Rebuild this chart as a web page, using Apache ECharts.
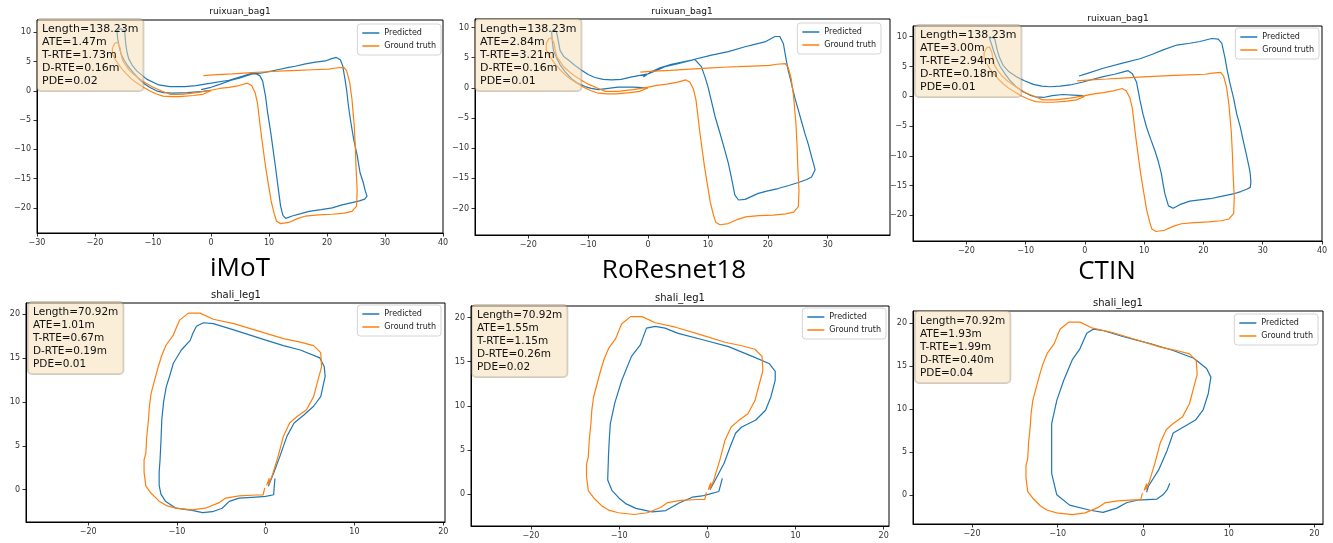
<!DOCTYPE html>
<html>
<head>
<meta charset="utf-8">
<title>trajectory compare</title>
<script src="https://cdn.jsdelivr.net/npm/echarts@6/dist/echarts.min.js"></script>
<style>
  html, body { margin: 0; padding: 0; background: #fff; }
  #main { width: 1333px; height: 543px; }
</style>
</head>
<body>
<div id="main"></div>
<script>
var methods = ['iMoT', 'RoResnet18', 'CTIN'];
var topTitle = 'ruixuan_bag1';
var bottomTitle = 'shali_leg1';

// metrics shown in the boxes
var topLength = '138.23';
var topATE = ['1.47', '2.84', '3.00'];
var topTRTE = ['1.73', '3.21', '2.94'];
var topDRTE = ['0.16', '0.16', '0.18'];
var topPDE = ['0.02', '0.01', '0.01'];
var bottomLength = '70.92';
var bottomATE = ['1.01', '1.55', '1.93'];
var bottomTRTE = ['0.67', '1.15', '1.99'];
var bottomDRTE = ['0.19', '0.26', '0.40'];
var bottomPDE = ['0.01', '0.02', '0.04'];

// tick labels
var topXTicks = [
    [-30, -20, -10, 0, 10, 20, 30, 40],
    [-20, -10, 0, 10, 20, 30],
    [-20, -10, 0, 10, 20, 30, 40]
];
var topYTicks = [-20, -15, -10, -5, 0, 5, 10];
var bottomXTicks = [-20, -10, 0, 10, 20];
var bottomYTicks = [0, 5, 10, 15, 20];

// ground truth, ruixuan_bag1
var gtRuixuan = [
    [0, 0], [-1.4, -0.6], [-3, -0.8], [-5.4, -1.0], [-6.8, -1.0], [-8.3, -0.9], [-9.5, -0.5], [-10.6, 0],
    [-11.8, 0.7], [-12.9, 1.4], [-13.8, 2.1], [-14.6, 2.9], [-15.4, 3.8], [-16, 4.6], [-16.6, 5.5], [-17, 6.3],
    [-17, 7.3], [-16.6, 8.1], [-16.1, 8.3], [-15.7, 7.4], [-15.5, 6.2], [-15.2, 5.1], [-14.6, 4.2], [-14, 3.4],
    [-13.2, 2.7], [-12.3, 2], [-11.2, 1.3], [-10, 0.6], [-8.6, 0], [-7.1, -0.6], [-5, -0.6], [-2.5, -0.3],
    [0, 0.1], [1.5, 0.4], [3.1, 0.6], [4.8, 0.9], [6.3, 1.3], [7, 0.9], [7.6, -0.3], [8, -2], [8.3, -4.5],
    [8.6, -7], [9, -10], [9.4, -12.9], [9.9, -16], [10.4, -19], [10.9, -21], [11.3, -22.3], [12, -22.7],
    [13.4, -22.5], [15, -21.8], [16.3, -21.4], [18.5, -21.2], [20.9, -21.1], [23, -20.9], [24.3, -20.6],
    [25.1, -19.7], [25.2, -17], [25, -13], [24.9, -10], [24.7, -6], [24.3, -1.4], [23.9, 1.5], [23.4, 3.4],
    [22.9, 4], [21.5, 3.9], [20.3, 3.7], [17.5, 3.6], [15.1, 3.5], [12.5, 3.4], [10.6, 3.3], [7, 3.1],
    [3.7, 2.9], [1, 2.75], [-1.3, 2.6]
];

// predicted, ruixuan_bag1
var predRuixuanIMoT = [
    [0, 0.1], [-1.4, -0.1], [-4, -0.3], [-6.6, -0.4], [-8.2, -0.3], [-9.4, 0], [-10.6, 0.6], [-11.5, 1.2],
    [-12.5, 2.1], [-13.4, 3.1], [-14.3, 4.2], [-14.9, 5.1], [-15.5, 6.3], [-15.8, 7.4], [-16.1, 9], [-16.2, 10.2],
    [-15.6, 10.6], [-14.9, 10.3], [-14.8, 9.2], [-14.7, 8], [-14.5, 6.7], [-14.2, 5.5], [-13.6, 4.4], [-12.8, 3.4],
    [-11.1, 2], [-9, 1], [-7.1, 0.7], [-4.5, 0.7], [-2.6, 0.9], [0, 1.3], [3.1, 1.8], [5.5, 2.5], [7.4, 3.1],
    [8.4, 2.6], [8.9, 1.7], [9.4, -0.9], [9.8, -4], [10.3, -7.1], [10.7, -10], [11.1, -12.9], [11.5, -16],
    [12, -19.7], [12.4, -21.3], [12.9, -21.8], [14, -21.4], [15.5, -21], [16.9, -20.6], [19, -20.3], [20.9, -20],
    [22.6, -19.5], [24.3, -19.1], [25.6, -18.8], [26.5, -18.5], [26.9, -18], [26.6, -17.1], [26.2, -15.5],
    [25.7, -14], [25.2, -11], [24.6, -8.3], [24.1, -5.3], [23.7, -2.6], [23.4, 0], [23.1, 2], [22.7, 4.3],
    [22.3, 5.3], [21.6, 5.7], [20.8, 5.5], [19.7, 5.1], [18, 4.9], [16.3, 4.6], [14.5, 4.2], [13.4, 4],
    [11.5, 3.6], [10.6, 3.4], [8.5, 3], [7.1, 2.9], [5, 2.2], [3.5, 1.8], [1.5, 1.1], [0, 0.6], [-1.7, 0.2]
];
var predRuixuanRoRes = [
    [0, 0], [-2.5, 0.1], [-5, 0.1], [-8.3, -0.3], [-9.5, -0.1], [-10.5, 0.2], [-11.8, 0.8], [-12.8, 1.5],
    [-13.8, 2.6], [-14.7, 3.8], [-15.3, 5], [-15.8, 6.2], [-16, 7.8], [-16.1, 9.3], [-15.7, 9.7], [-15.3, 9.3],
    [-15, 7.8], [-14.7, 6.2], [-14.1, 5.2], [-13.3, 4.6], [-12.2, 3.7], [-11.1, 2.9], [-10, 2.2], [-8.9, 1.7],
    [-7.5, 1.4], [-6.1, 1.3], [-4.5, 1.4], [-2.7, 1.8], [0, 2.3], [1.5, 2.9], [2.8, 3.5], [5, 4], [7.8, 4.7],
    [8.9, 3.5], [9.5, 1.8], [10, 0.2], [10.6, -2.3], [11.2, -4.8], [12, -7.5], [12.8, -10.3], [13.4, -12.5],
    [13.9, -14.8], [14.5, -17.8], [15.1, -18.6], [16.2, -18.5], [18.4, -17.5], [20, -17.1], [21.7, -16.7],
    [23.5, -16.2], [25.1, -15.7], [26.5, -15.2], [27.3, -14.8], [27.9, -13.6], [27.6, -12.5], [27.3, -11.4],
    [26.8, -9.5], [26.2, -7.6], [25.6, -5.5], [25.1, -3.7], [24.6, -2], [24.2, -0.4], [23.8, 1.3], [23.4, 2.9],
    [23, 5], [22.6, 7.3], [22, 8.5], [21.2, 8.5], [19.5, 7.6], [17.8, 7.2], [16.2, 6.8], [13.4, 6], [10.6, 5.4],
    [7.3, 4.6], [3.9, 3.9], [2, 3.3], [0.6, 2.7], [-0.8, 1.8]
];
var predRuixuanCTIN = [
    [-0.3, 0.1], [-2, 0.2], [-3.7, 0.3], [-5.5, 0.1], [-7, -0.2], [-8.3, -0.1], [-9.3, 0.2], [-10.5, 0.8],
    [-11.6, 1.6], [-12.6, 2.6], [-13.5, 3.8], [-14.3, 5], [-14.9, 6.3], [-15.4, 7.6], [-15.8, 8.9], [-16.1, 9.7],
    [-15.6, 9.9], [-15.2, 9.6], [-15, 8.7], [-14.8, 7.8], [-14.4, 6.5], [-13.8, 5.2], [-12.8, 4.1], [-11.6, 3.3],
    [-10.2, 2.6], [-8.7, 2], [-7.3, 1.7], [-5.9, 1.6], [-4.2, 1.7], [-2.5, 1.9], [-0.3, 2.4], [1.5, 2.9],
    [3.1, 3.3], [5, 3.7], [6.5, 4.1], [7.3, 4.3], [8, 3.8], [8.7, 2.4], [9.3, -0.7], [9.8, -3], [10.4, -5.2],
    [11.1, -7.2], [11.8, -9.1], [12.4, -11], [12.9, -13], [13.2, -14.8], [13.5, -16.4], [14.1, -18.4],
    [14.9, -18.8], [16, -18.2], [17.7, -17.6], [19.4, -17.4], [21.1, -17.2], [23, -16.8], [25, -16.4],
    [26.3, -16], [27.3, -15.6], [27.9, -15.3], [28, -14.4], [27.9, -13], [27.7, -11.9], [27.2, -9.6],
    [26.7, -7.4], [26.2, -5.1], [25.6, -2.9], [25.1, -0.4], [24.5, 2.1], [24, 4.4], [23.6, 6.6], [23.1, 8.9],
    [22.5, 9.6], [21.4, 9.7], [19.4, 9.2], [17.7, 8.9], [15.5, 8.6], [13.2, 7.8], [11.5, 7.1], [9.3, 6.3],
    [6.5, 5.6], [3.1, 4.7], [0.3, 3.8], [-1, 3.4]
];

// ground truth, shali_leg1
var gtShali = [
    [-0.1, 0.2], [-0.3, -0.6], [-1.1, -0.6], [-3, -0.7], [-4.5, -0.95], [-5.3, -1.5], [-6.8, -2.1], [-8.3, -2.3],
    [-10.1, -2.1], [-11.2, -1.8], [-12, -1.3], [-12.9, -0.4], [-13.5, 0.4], [-13.7, 2], [-13.7, 3.4], [-13.5, 4.2],
    [-13.4, 6], [-13.2, 8], [-13.1, 9.5], [-12.9, 11], [-12.5, 12.5], [-12.1, 14], [-11.7, 15.3], [-11.2, 16.5],
    [-10.4, 17.6], [-10, 18.6], [-9.7, 19.3], [-8.7, 20.1], [-7.4, 20.1], [-5.9, 19.4], [-3.6, 18.9], [-0.6, 18],
    [2, 17.2], [3.9, 16.8], [5.4, 16.4], [6.2, 15.6], [6.3, 14], [5.9, 12.5], [5.4, 10.6], [4.6, 9.1],
    [3.5, 8.3], [2.7, 7.6], [2, 6.1], [1.4, 3.8], [0.7, 1.5], [0.3, 0.6], [0.4, 1.3], [0.1, 0.5]
];

// predicted, shali_leg1
var predShaliIMoT = [
    [1.05, 1.3], [0.95, 0.2], [0.9, -0.57], [0, -0.76], [-1.1, -0.83], [-3, -0.95], [-4.1, -1.33], [-4.9, -2.1],
    [-6, -2.5], [-7.1, -2.6], [-8.3, -2.35], [-10.1, -2.1], [-11.3, -1.3], [-11.8, -0.5], [-12, 0.5], [-12, 2],
    [-11.9, 3.4], [-11.8, 5.5], [-11.7, 8], [-11.5, 10], [-11.2, 11.7], [-10.8, 13], [-10.4, 14.4], [-9.5, 15.9],
    [-8.5, 17], [-8.2, 17.8], [-7.8, 18.6], [-7, 19], [-5.9, 18.9], [-3.6, 18.2], [0.1, 17], [2, 16.4],
    [3.9, 15.9], [6.1, 15], [6.6, 14], [6.7, 12.9], [6.2, 10.6], [5.4, 9.5], [4.3, 8.5], [3.2, 7.6],
    [2.4, 6.1], [1.6, 3.8], [0.9, 1.9], [0.3, 0.4]
];
var predShaliRoRes = [
    [1.7, 1.8], [1.3, 0.3], [0.2, 0], [-0.6, -0.2], [-1.7, -0.34], [-3.2, -1], [-4.7, -1.85], [-6.25, -2],
    [-8.1, -1.6], [-9.2, -1.1], [-10, -0.45], [-10.8, 0.4], [-11.3, 1.6], [-11.2, 4.6], [-11.1, 6.5], [-11, 8],
    [-10.5, 10.3], [-9.7, 12.9], [-8.6, 15.6], [-7.6, 16.9], [-6.9, 18.8], [-5.9, 19], [-4.8, 18.8], [-3.3, 18.2],
    [-0.2, 17.4], [2.4, 16.7], [5.1, 15.6], [7, 14.8], [7.7, 13.9], [7.7, 12.9], [7.2, 11], [6.6, 9.5],
    [5.5, 8.4], [3.9, 7.6], [3.2, 6.9], [2.6, 5.4], [1.9, 3.5], [0.9, 1.6], [0.3, 0.5]
];
var predShaliCTIN = [
    [3.1, 1.35], [2.8, 0.6], [2.3, 0], [1.6, -0.5], [0, -0.6], [-0.4, -0.58], [-1.9, -0.9], [-3.1, -1.55],
    [-4.7, -2.05], [-6.2, -1.8], [-8.6, -1.2], [-10.1, 0], [-10.7, 2.5], [-10.7, 3.7], [-10.7, 8.3], [-10.1, 11],
    [-9.3, 13.3], [-8.3, 15.7], [-7.4, 17], [-6.6, 18.8], [-5.8, 19.3], [-4.6, 19.1], [-2.3, 18.4], [0.8, 17.6],
    [3.5, 16.8], [5.9, 15.9], [7.4, 14.7], [7.9, 13.7], [7.6, 11.8], [7, 9.9], [6.1, 8.7], [4.7, 7.9],
    [3.5, 7.2], [2.8, 5.2], [1.8, 2.9], [0.6, 1], [0.4, 0.3]
];

var predTop = [predRuixuanIMoT, predRuixuanRoRes, predRuixuanCTIN];
var predBottom = [predShaliIMoT, predShaliRoRes, predShaliCTIN];

// panel boxes in pixels, and the axis ranges
var panels = [
    {left: 37, top: 20, width: 406, height: 213, xr: [-30, 40], yr: [-24.3, 12.1], legend: [892, 24], box: [37, 19], title: [240, 12]},
    {left: 475, top: 19, width: 415, height: 216, xr: [-28.9, 40.4], yr: [-24.4, 11.4], legend: [452, 23], box: [475, 19], title: [682, 12]},
    {left: 913, top: 26, width: 409, height: 215, xr: [-29, 40], yr: [-24.3, 11.8], legend: [14, 28], box: [915, 25], title: [1118, 19]},
    {left: 26, top: 303, width: 419, height: 219, xr: [-27, 20.2], yr: [-3.67, 21.25], legend: [892, 305], box: [28, 302], title: [236, 295]},
    {left: 471, top: 306, width: 418, height: 220, xr: [-26.8, 20.6], yr: [-3.6, 21.3], legend: [447, 308], box: [472, 305], title: [680, 298]},
    {left: 913, top: 311, width: 410, height: 213, xr: [-26.9, 21], yr: [-3.4, 21.4], legend: [15, 314], box: [915, 311], title: [1118, 303]}
];

var BLUE = '#1f77b4';
var ORANGE = '#ff7f0e';
var FONT = '"DejaVu Sans", sans-serif';

function tickText(v) {
    return v < 0 ? '\u2212' + (-v) : '' + v;
}

function makeAxis(i, range, ticks) {
    return {
        type: 'value',
        gridIndex: i,
        min: range[0],
        max: range[1],
        axisLine: {show: true, onZero: false, lineStyle: {color: '#000', width: 1}},
        axisTick: {show: true, customValues: ticks, length: 3.5, lineStyle: {color: '#000', width: 0.8}},
        axisLabel: {customValues: ticks, formatter: tickText, fontSize: 8, color: '#333', margin: 6, fontFamily: FONT},
        splitLine: {show: false}
    };
}

function statsText(len, ate, trte, drte, pde) {
    return ['Length=' + len + 'm', 'ATE=' + ate + 'm', 'T-RTE=' + trte + 'm', 'D-RTE=' + drte + 'm', 'PDE=' + pde].join('\n');
}

var grids = [], xAxes = [], yAxes = [], series = [], legends = [], graphics = [];

for (var i = 0; i < 6; i++) {
    var p = panels[i];
    var isTop = i < 3;
    var k = i % 3;
    grids.push({left: p.left, top: p.top, width: p.width, height: p.height, show: true,
        borderColor: '#000', borderWidth: 1, backgroundColor: 'transparent'});
    xAxes.push(makeAxis(i, p.xr, isTop ? topXTicks[k] : bottomXTicks));
    yAxes.push(makeAxis(i, p.yr, isTop ? topYTicks : bottomYTicks));

    series.push({
        name: 'Predicted', type: 'line', xAxisIndex: i, yAxisIndex: i,
        data: isTop ? predTop[k] : predBottom[k],
        symbol: 'none', showSymbol: false, smooth: false,
        lineStyle: {color: BLUE, width: 1.2}, itemStyle: {color: BLUE}
    });
    series.push({
        name: 'Ground truth', type: 'line', xAxisIndex: i, yAxisIndex: i,
        data: isTop ? gtRuixuan : gtShali,
        symbol: 'none', showSymbol: false, smooth: false,
        lineStyle: {color: ORANGE, width: 1.2}, itemStyle: {color: ORANGE}
    });

    // plain line samples in the legend, like matplotlib
    legends.push({
        orient: 'vertical', right: p.legend[0], top: p.legend[1],
        data: ['Predicted', 'Ground truth'],
        icon: 'rect', itemWidth: 17, itemHeight: 1.5, itemGap: 3, selectedMode: false,
        textStyle: {fontSize: 8, color: '#222', fontFamily: FONT, lineHeight: 10},
        backgroundColor: 'rgba(255,255,255,0.85)', borderColor: '#d4d4d4', borderWidth: 1, borderRadius: 3,
        padding: [4, 5, 4, 5]
    });

    graphics.push({
        type: 'text', z: 100,
        style: {
            text: isTop ? topTitle : bottomTitle,
            x: p.title[0], y: p.title[1],
            align: 'center', verticalAlign: 'middle', textAlign: 'center', textVerticalAlign: 'middle',
            font: (isTop ? 9 : 10) + 'px ' + FONT, fill: '#111'
        }
    });

    graphics.push({
        type: 'text', z: 100,
        style: {
            text: isTop ? statsText(topLength, topATE[k], topTRTE[k], topDRTE[k], topPDE[k])
                        : statsText(bottomLength, bottomATE[k], bottomTRTE[k], bottomDRTE[k], bottomPDE[k]),
            x: p.box[0], y: p.box[1],
            align: 'left', verticalAlign: 'top', textAlign: 'left', textVerticalAlign: 'top',
            font: (isTop ? 11 : 10.5) + 'px ' + FONT, lineHeight: 13, fill: '#111',
            backgroundColor: 'rgba(245,222,179,0.5)', borderColor: 'rgba(120,110,90,0.35)', borderWidth: 1,
            borderRadius: 4, padding: [4, 5, 3, 5]
        }
    });
}

// method names between the rows
var labelPos = [[240, 269], [674, 271], [1107, 272]];
for (var j = 0; j < methods.length; j++) {
    graphics.push({
        type: 'text', z: 100,
        style: {
            text: methods[j], x: labelPos[j][0], y: labelPos[j][1],
            align: 'center', verticalAlign: 'middle', textAlign: 'center', textVerticalAlign: 'middle',
            font: '26px "Open Sans", sans-serif', fill: '#000'
        }
    });
}

var option = {
    animation: false,
    backgroundColor: '#fff',
    grid: grids,
    xAxis: xAxes,
    yAxis: yAxes,
    series: series,
    legend: legends,
    graphic: graphics
};

var chart = echarts.init(document.getElementById('main'), null, {renderer: 'canvas'});
chart.setOption(option);
</script>
</body>
</html>
